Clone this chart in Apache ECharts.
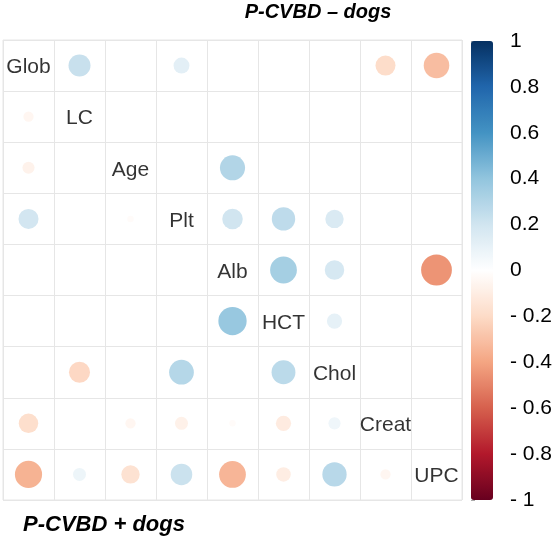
<!DOCTYPE html>
<html>
<head>
<meta charset="utf-8">
<script src="https://cdn.jsdelivr.net/npm/echarts@6/dist/echarts.min.js"></script>
<style>
html,body{margin:0;padding:0;background:#fff;}
#c{width:555px;height:542px;}
</style>
</head>
<body>
<div id="c"></div>
<script>
// Variables (matrix order, top to bottom / left to right)
var variables = ['Glob', 'LC', 'Age', 'Plt', 'Alb', 'HCT', 'Chol', 'Creat', 'UPC'];

// Upper triangle: P-CVBD – dogs  [row, col, r]
var upperNegDogs = [
  [0, 1, 0.23], [0, 3, 0.12], [0, 7, -0.19], [0, 8, -0.31],
  [2, 4, 0.30],
  [3, 4, 0.20], [3, 5, 0.26], [3, 6, 0.16],
  [4, 5, 0.34], [4, 6, 0.18], [4, 8, -0.45],
  [5, 6, 0.11]
];

// Lower triangle: P-CVBD + dogs  [row, col, r]
var lowerPosDogs = [
  [1, 0, -0.05],
  [2, 0, -0.07],
  [3, 0, 0.19], [3, 2, -0.02],
  [5, 4, 0.38],
  [6, 1, -0.21], [6, 3, 0.29], [6, 5, 0.27],
  [7, 0, -0.18], [7, 2, -0.05], [7, 3, -0.08], [7, 4, -0.02], [7, 5, -0.11], [7, 6, 0.07],
  [8, 0, -0.35], [8, 1, 0.08], [8, 2, -0.16], [8, 3, 0.22], [8, 4, -0.34], [8, 5, -0.10], [8, 6, 0.28], [8, 7, -0.05]
];

// Colour bar
var colorStops = ['#67001F', '#B2182B', '#D6604D', '#F4A582', '#FDDBC7', '#FFFFFF',
                  '#D1E5F0', '#92C5DE', '#4393C3', '#2166AC', '#053061'];
var colorbarLabels = ['- 1', '- 0.8', '- 0.6', '- 0.4', '- 0.2', '0', '0.2', '0.4', '0.6', '0.8', '1'];

var titleTop = 'P-CVBD – dogs';
var titleBottom = 'P-CVBD + dogs';

var cellPx = 51;

function toPoints(arr) {
  return arr.map(function (d) { return [d[1], d[0], d[2]]; });
}
var circles = toPoints(upperNegDogs).concat(toPoints(lowerPosDogs));
var diag = variables.map(function (v, i) { return [i, i, v]; });

var chart = echarts.init(document.getElementById('c'), null, {renderer: 'canvas'});
var FONT = 'Liberation Sans, Arial, Helvetica, sans-serif';

chart.setOption({
  backgroundColor: '#fff',
  animation: false,
  grid: [
    {left: 3, top: 40, width: 459, height: 460, show: true, borderColor: '#e6e6e6', borderWidth: 1},
    {left: 471, top: 41, width: 22, height: 459, show: false}
  ],
  xAxis: [
    {gridIndex: 0, type: 'category', data: variables, boundaryGap: true,
     axisLine: {show: false}, axisTick: {show: false}, axisLabel: {show: false},
     splitLine: {show: true, interval: 0, lineStyle: {color: '#e6e6e6', width: 1}}},
    {gridIndex: 1, type: 'value', min: 0, max: 1, show: false}
  ],
  yAxis: [
    {gridIndex: 0, type: 'category', data: variables, inverse: true, boundaryGap: true,
     axisLine: {show: false}, axisTick: {show: false}, axisLabel: {show: false},
     splitLine: {show: true, interval: 0, lineStyle: {color: '#e6e6e6', width: 1}}},
    {gridIndex: 1, type: 'value', min: -1, max: 1, interval: 0.2, position: 'right',
     axisLine: {show: false},
     axisTick: {show: true, length: 4, lineStyle: {color: '#aaa'}},
     splitLine: {show: false},
     axisLabel: {margin: 17, fontSize: 21, color: '#000', fontFamily: FONT,
       formatter: function (v) { return colorbarLabels[Math.round((v + 1) / 0.2)]; }}}
  ],
  visualMap: {
    type: 'continuous', min: -1, max: 1, seriesIndex: 0, dimension: 2,
    inRange: {color: colorStops},
    left: 471, top: 41, itemWidth: 22, itemHeight: 459, padding: 0,
    calculable: false, text: null, orient: 'vertical', hoverLink: false
  },
  series: [
    {type: 'scatter', xAxisIndex: 0, yAxisIndex: 0, data: circles,
     symbol: 'circle',
     symbolSize: function (val) { return 2 * 0.45 * Math.sqrt(Math.abs(val[2])) * cellPx; },
     itemStyle: {opacity: 1}},
    {type: 'scatter', xAxisIndex: 0, yAxisIndex: 0, data: diag, symbolSize: 1,
     itemStyle: {color: 'rgba(0,0,0,0)'},
     label: {show: true, position: 'inside', fontSize: 21, color: '#000', fontFamily: FONT,
       offset: [0, 2],
       formatter: function (p) { return p.data[2]; }}},
    {type: 'scatter', xAxisIndex: 1, yAxisIndex: 1, data: []}
  ],
  graphic: [
    {type: 'text', x: 318, y: 2, style: {text: titleTop, textAlign: 'center',
      font: 'italic bold 20px ' + FONT, fill: '#000'}},
    {type: 'text', x: 23, y: 514, style: {text: titleBottom, textAlign: 'left',
      font: 'italic bold 22px ' + FONT, fill: '#000'}}
  ]
});
</script>
</body>
</html>
